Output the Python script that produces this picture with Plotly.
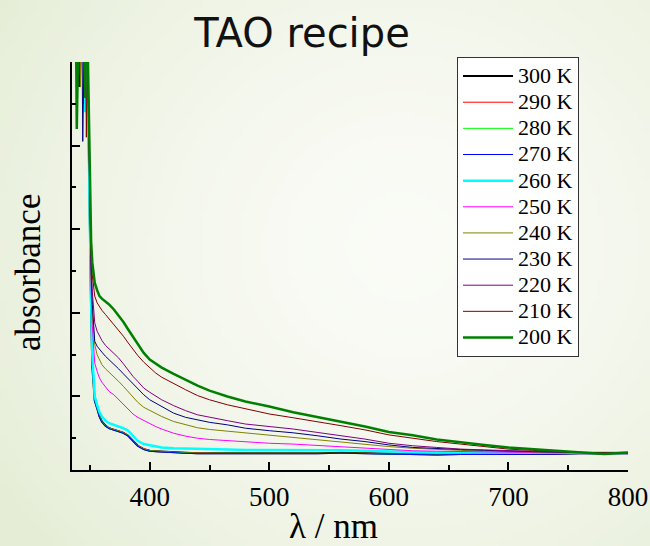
import base64
import struct
import zlib

import plotly.graph_objects as go

# Wavelength grid (nm) shared by all spectra
wavelength_nm = [
    336, 338, 339, 340, 341, 342, 343, 344, 345, 346, 347, 348, 349, 350, 351, 352,
    354, 356, 358, 360, 363, 366, 370, 374, 378, 382, 386, 390, 395, 400, 405, 410,
    420, 430, 440, 450, 465, 480, 500, 520, 540, 560, 580, 600, 620, 640, 660, 680,
    700, 720, 740, 760, 780, 800,
]

temperatures = ["300 K", "290 K", "280 K", "270 K", "260 K", "250 K",
                "240 K", "230 K", "220 K", "210 K", "200 K"]

# Absorbance (arb. units); values above the frame are off-scale detector readings
abs_300 = [6, 6, 6, 6, 4.7, 6, 6, 6, 6, 6, 6, 5.0, 3.9, 2.8, 2.0, 1.35,
           0.95, 0.86, 0.76, 0.70, 0.65, 0.62, 0.60, 0.585, 0.565, 0.53, 0.47, 0.41, 0.37, 0.35, 0.345, 0.34,
           0.33, 0.325, 0.32, 0.32, 0.32, 0.315, 0.32, 0.32, 0.32, 0.325, 0.32, 0.31, 0.31, 0.305, 0.31, 0.31,
           0.315, 0.315, 0.315, 0.32, 0.32, 0.32]
abs_290 = [6, 6, 6, 6, 6, 4.85, 6, 6, 6, 6, 6, 5.0, 3.95, 2.85, 2.05, 1.38,
           0.96, 0.86, 0.77, 0.70, 0.655, 0.625, 0.605, 0.59, 0.57, 0.535, 0.475, 0.415, 0.375, 0.355, 0.345, 0.34,
           0.335, 0.325, 0.325, 0.32, 0.32, 0.32, 0.32, 0.325, 0.32, 0.325, 0.32, 0.315, 0.31, 0.31, 0.31, 0.315,
           0.315, 0.32, 0.315, 0.32, 0.32, 0.325]
abs_280 = [6, 6, 6, 6, 6, 6, 6, 6, 6, 6, 6, 5.0, 3.9, 2.8, 2.0, 1.36,
           0.95, 0.85, 0.76, 0.70, 0.65, 0.62, 0.60, 0.585, 0.565, 0.53, 0.47, 0.41, 0.37, 0.35, 0.345, 0.34,
           0.33, 0.325, 0.32, 0.32, 0.32, 0.32, 0.32, 0.32, 0.32, 0.32, 0.32, 0.31, 0.31, 0.305, 0.31, 0.31,
           0.315, 0.315, 0.32, 0.32, 0.32, 0.32]
abs_270 = [6, 6, 6, 6, 6, 6, 6, 6, 4.5, 6, 6, 5.0, 3.9, 2.8, 1.98, 1.34,
           0.94, 0.85, 0.75, 0.69, 0.645, 0.615, 0.595, 0.58, 0.56, 0.525, 0.465, 0.405, 0.365, 0.345, 0.34, 0.335,
           0.325, 0.32, 0.315, 0.315, 0.315, 0.31, 0.315, 0.315, 0.315, 0.32, 0.315, 0.305, 0.305, 0.3, 0.305, 0.305,
           0.31, 0.31, 0.31, 0.315, 0.315, 0.315]
abs_260 = [6, 6, 6, 6, 6, 6, 6, 6, 6, 4.4, 6, 5.0, 3.9, 2.9, 2.1, 1.5,
           1.0, 0.90, 0.81, 0.76, 0.71, 0.68, 0.66, 0.64, 0.62, 0.59, 0.53, 0.47, 0.43, 0.415, 0.40, 0.39,
           0.38, 0.375, 0.37, 0.37, 0.365, 0.36, 0.36, 0.36, 0.36, 0.355, 0.35, 0.34, 0.335, 0.33, 0.33, 0.33,
           0.33, 0.33, 0.33, 0.325, 0.325, 0.325]
abs_250 = [6, 6, 6, 6, 6, 6, 6, 6, 6, 6, 6, 5.0, 4.0, 3.0, 2.3, 1.85,
           1.40, 1.30, 1.22, 1.17, 1.11, 1.06, 1.02, 0.96, 0.91, 0.85, 0.79, 0.75, 0.71, 0.67, 0.64, 0.61,
           0.56, 0.525, 0.50, 0.485, 0.47, 0.455, 0.44, 0.43, 0.415, 0.395, 0.38, 0.365, 0.35, 0.345, 0.34, 0.335,
           0.33, 0.33, 0.325, 0.325, 0.32, 0.32]
abs_240 = [6, 6, 6, 6, 6, 4.7, 6, 6, 6, 6, 6, 5.0, 4.0, 3.0, 2.4, 2.0,
           1.62, 1.50, 1.43, 1.38, 1.33, 1.29, 1.24, 1.18, 1.12, 1.06, 0.99, 0.93, 0.87, 0.83, 0.79, 0.76,
           0.70, 0.66, 0.625, 0.605, 0.585, 0.56, 0.535, 0.51, 0.48, 0.45, 0.425, 0.40, 0.38, 0.365, 0.355, 0.345,
           0.34, 0.335, 0.33, 0.325, 0.32, 0.32]
abs_230 = [6, 6, 6, 6, 6, 6, 6, 4.05, 6, 6, 6, 5.1, 4.1, 3.1, 2.5, 2.1,
           1.66, 1.60, 1.56, 1.53, 1.48, 1.44, 1.39, 1.33, 1.27, 1.21, 1.15, 1.09, 1.02, 0.96, 0.92, 0.88,
           0.80, 0.75, 0.72, 0.69, 0.66, 0.62, 0.59, 0.565, 0.53, 0.49, 0.46, 0.42, 0.39, 0.375, 0.365, 0.355,
           0.345, 0.34, 0.335, 0.33, 0.325, 0.32]
abs_220 = [6, 6, 6, 6, 6, 6, 6, 6, 6, 6, 6, 5.1, 4.2, 3.2, 2.6, 2.25,
           1.88, 1.78, 1.72, 1.67, 1.61, 1.57, 1.52, 1.46, 1.39, 1.31, 1.24, 1.18, 1.10, 1.05, 1.00, 0.96,
           0.89, 0.83, 0.78, 0.75, 0.71, 0.67, 0.64, 0.61, 0.57, 0.53, 0.49, 0.44, 0.41, 0.39, 0.37, 0.36,
           0.35, 0.34, 0.335, 0.33, 0.325, 0.32]
abs_210 = [6, 6, 6, 6, 6, 6, 6, 6, 6, 6, 4.1, 5.2, 4.3, 3.3, 2.7, 2.45,
           2.20, 2.12, 2.07, 2.03, 1.98, 1.93, 1.86, 1.79, 1.72, 1.64, 1.56, 1.49, 1.41, 1.34, 1.28, 1.23,
           1.15, 1.08, 1.01, 0.96, 0.90, 0.85, 0.79, 0.745, 0.70, 0.65, 0.60, 0.54, 0.50, 0.46, 0.43, 0.40,
           0.37, 0.355, 0.34, 0.33, 0.325, 0.32]
abs_200 = [6, 6, 4.2, 6, 6, 6, 6, 6, 6, 4.57, 6, 5.3, 4.4, 3.4, 2.85, 2.6,
           2.36, 2.27, 2.20, 2.17, 2.14, 2.10, 2.04, 1.97, 1.89, 1.80, 1.71, 1.62, 1.52, 1.44, 1.39, 1.345,
           1.27, 1.20, 1.13, 1.07, 1.00, 0.94, 0.88, 0.81, 0.755, 0.70, 0.64, 0.575, 0.535, 0.485, 0.45, 0.42,
           0.39, 0.37, 0.345, 0.33, 0.31, 0.33]

spectra = [abs_300, abs_290, abs_280, abs_270, abs_260, abs_250,
           abs_240, abs_230, abs_220, abs_210, abs_200]

line_colors = ["#000000", "#ff0000", "#00ff00", "#0000ff", "#00ffff", "#ff00ff",
               "#808000", "#000080", "#800080", "#800000", "#008000"]
line_widths = [2, 1, 1, 1, 2.5, 1, 1, 1, 1, 1, 2.5]


def gradient_png(w, h):
    """Soft green-to-white backdrop as a PNG data URI."""
    light = (250, 251, 246)
    green = (229, 237, 214)
    rows = []
    for j in range(h):
        row = bytearray([0])
        for i in range(w):
            dx = (i / (w - 1) - 0.62) / 0.75
            dy = (j / (h - 1) - 0.45) / 0.85
            t = min(1.0, (dx * dx + dy * dy) ** 0.5) ** 1.6
            row += bytes(round(light[k] + (green[k] - light[k]) * t) for k in range(3))
        rows.append(bytes(row))
    raw = b"".join(rows)

    def chunk(tag, data):
        c = struct.pack(">I", len(data)) + tag + data
        return c + struct.pack(">I", zlib.crc32(tag + data) & 0xFFFFFFFF)

    png = b"\x89PNG\r\n\x1a\n"
    png += chunk(b"IHDR", struct.pack(">IIBBBBB", w, h, 8, 2, 0, 0, 0))
    png += chunk(b"IDAT", zlib.compress(raw, 9))
    png += chunk(b"IEND", b"")
    return "data:image/png;base64," + base64.b64encode(png).decode()


W, H = 650, 546
L, R, T, B = 72, 22, 62, 76
pw, ph = W - L - R, H - T - B

fig = go.Figure()
for name, ys, col, lw in zip(temperatures, spectra, line_colors, line_widths):
    fig.add_trace(go.Scatter(
        x=wavelength_nm, y=ys, mode="lines",
        name=f'<span style="font-size:22px">{name}</span>',
        line=dict(color=col, width=lw),
    ))

serif = "Liberation Serif, Times New Roman, serif"

fig.update_layout(
    width=W, height=H,
    margin=dict(l=L, r=R, t=T, b=B, autoexpand=False),
    paper_bgcolor="#f3f6ec",
    plot_bgcolor="rgba(0,0,0,0)",
    showlegend=True,
    title=dict(
        text="TAO recipe", x=302 / W, xanchor="center",
        y=1 - 33 / H, yanchor="middle", yref="container",
        font=dict(family="DejaVu Sans", size=40, color="#111111"),
    ),
    legend=dict(
        x=(457 - L) / pw, y=1 + (T - 57) / ph, xanchor="left", yanchor="top",
        bgcolor="white", bordercolor="#333333", borderwidth=1,
        maxheight=1.0, itemwidth=50,
        font=dict(family=serif, size=17.8, color="black"),
    ),
    xaxis=dict(
        range=[335, 800], showgrid=False, zeroline=False, automargin=False,
        showline=True, linecolor="black", linewidth=2,
        ticks="inside", ticklen=8, tickwidth=2, tickcolor="black",
        tick0=0, dtick=100, ticklabelstandoff=2,
        minor=dict(ticks="inside", ticklen=5, tickwidth=2, tickcolor="black", dtick=50),
        tickfont=dict(family=serif, size=27, color="black"),
    ),
    yaxis=dict(
        range=[0.12, 5.0], showgrid=False, zeroline=False, automargin=False,
        showline=True, linecolor="black", linewidth=2,
        ticks="inside", ticklen=8, tickwidth=2, tickcolor="black",
        tick0=0, dtick=1, showticklabels=False,
        minor=dict(ticks="inside", ticklen=4, tickwidth=2, tickcolor="black", dtick=0.5),
    ),
    images=[dict(
        source=gradient_png(130, 110), xref="paper", yref="paper",
        x=-L / pw, y=1 + T / ph, sizex=W / pw, sizey=H / ph,
        xanchor="left", yanchor="top", sizing="stretch", layer="below",
    )],
    annotations=[
        dict(text="λ / nm", x=(333 - L) / pw, y=(T + ph - 526) / ph,
             xref="paper", yref="paper", showarrow=False,
             xanchor="center", yanchor="middle",
             font=dict(family=serif, size=35, color="black")),
        dict(text="absorbance", x=(28 - L) / pw, y=(T + ph - 273) / ph,
             xref="paper", yref="paper", showarrow=False, textangle=-90,
             xanchor="center", yanchor="middle",
             font=dict(family=serif, size=35, color="black")),
    ],
)

fig.write_html("out.html")
